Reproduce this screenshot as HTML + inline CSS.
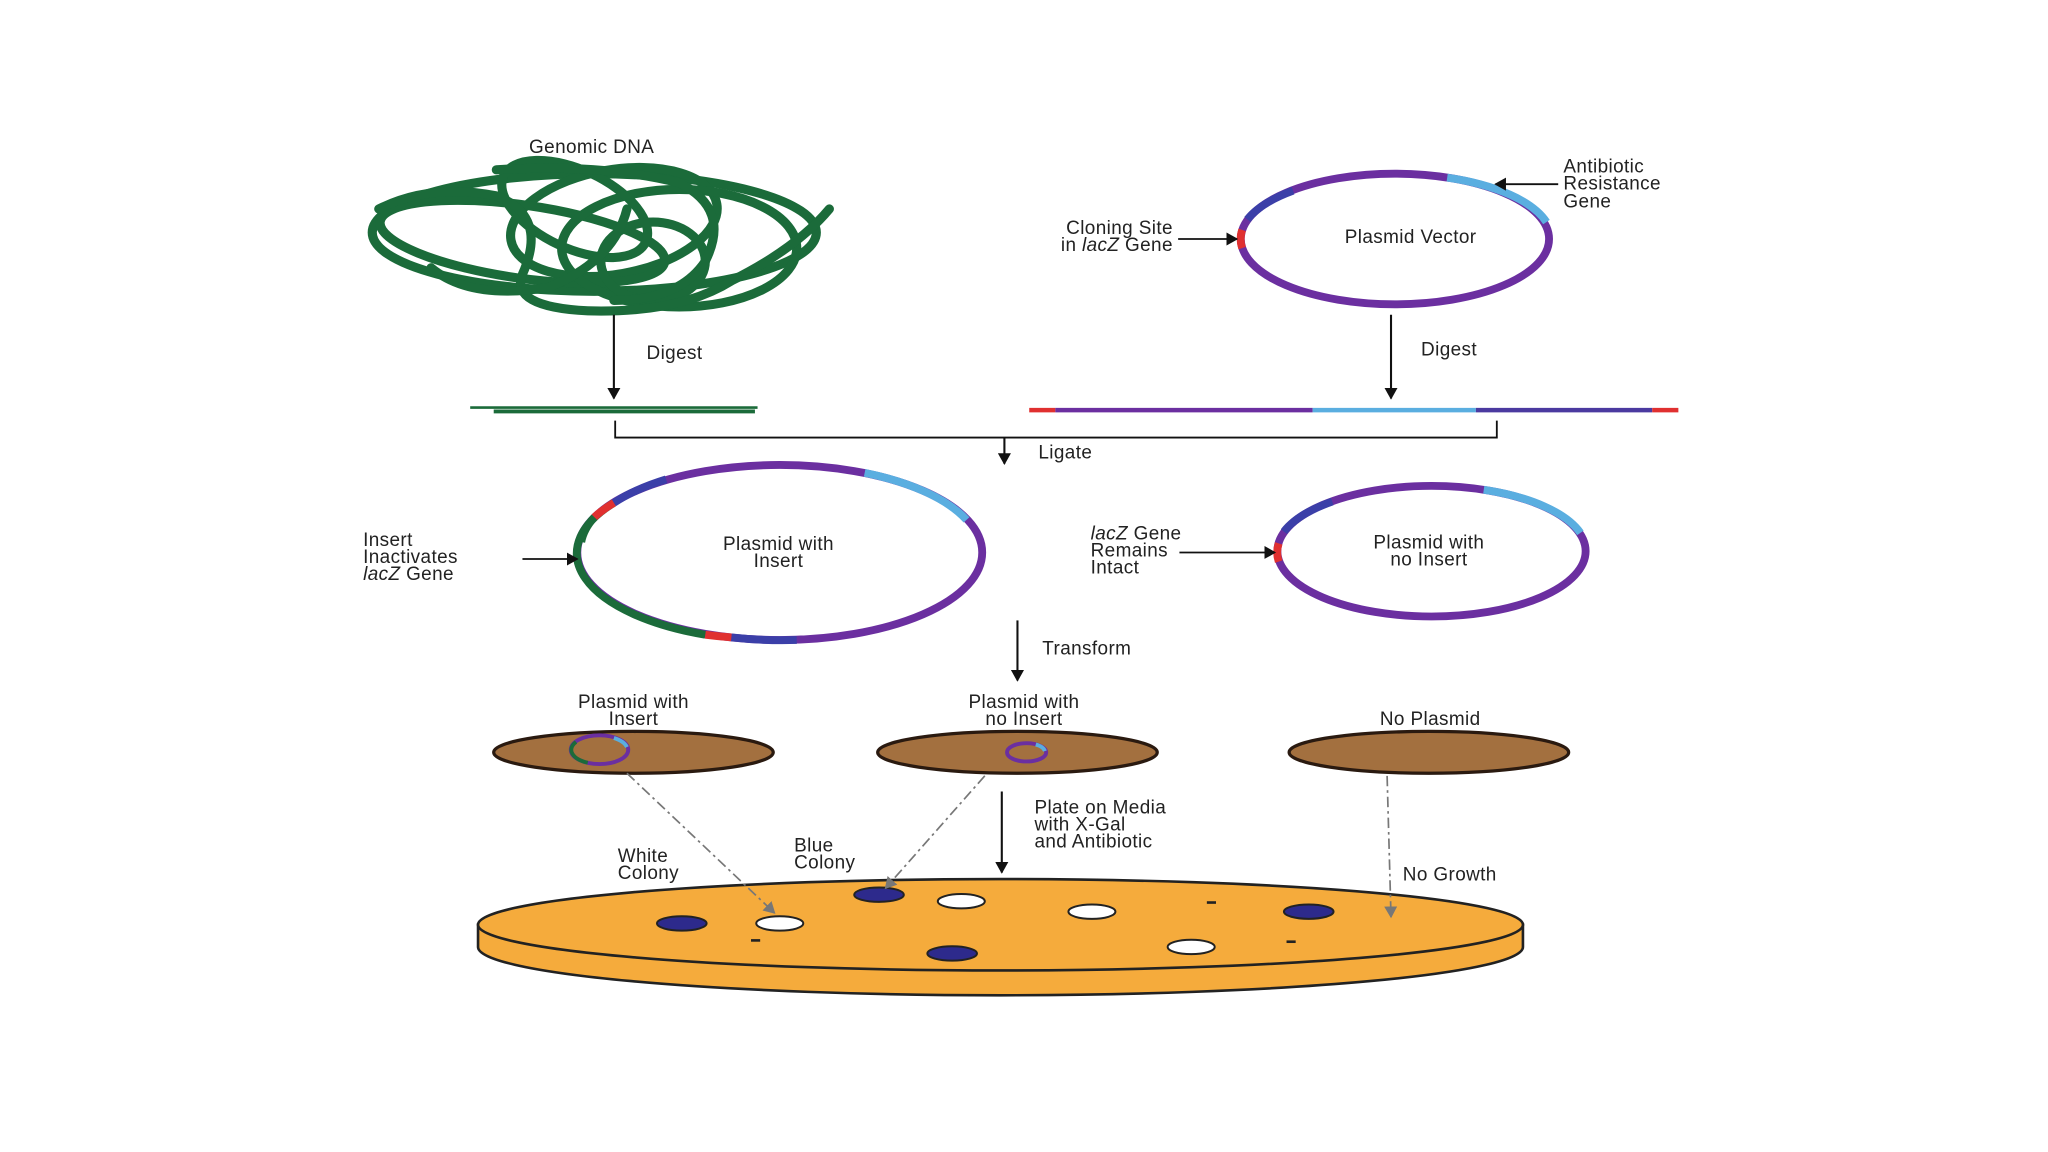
<!DOCTYPE html>
<html><head><meta charset="utf-8"><style>
html,body{margin:0;padding:0;background:#fff;}
svg{display:block;}
text{font-family:"Liberation Sans",sans-serif;font-size:14.5px;fill:#222;letter-spacing:0.3px;}
</style></head><body>
<svg width="2048" height="1152" viewBox="0 0 1568 882" preserveAspectRatio="none" xmlns="http://www.w3.org/2000/svg">
<defs>
<marker id="ah" markerWidth="10" markerHeight="10" refX="8" refY="5" orient="auto" markerUnits="userSpaceOnUse"><path d="M0,0 L9,5 L0,10 Z" fill="#111"/></marker>
<marker id="ag" markerWidth="10" markerHeight="10" refX="8" refY="5" orient="auto" markerUnits="userSpaceOnUse"><path d="M0,0 L9,5 L0,10 Z" fill="#777"/></marker>
</defs>
<rect width="1568" height="882" fill="#fff"/>

<!-- Genomic DNA -->
<text x="453" y="117" text-anchor="middle">Genomic DNA</text>
<g fill="none" stroke="#1b6b3a" stroke-width="7" stroke-linecap="round">
<ellipse cx="455" cy="178" rx="170" ry="45"/>
<ellipse cx="470" cy="170" rx="80" ry="40" transform="rotate(-10 470 170)"/>
<ellipse cx="400" cy="185" rx="110" ry="28" transform="rotate(8 400 185)"/>
<ellipse cx="520" cy="190" rx="90" ry="45"/>
<ellipse cx="440" cy="160" rx="60" ry="30" transform="rotate(25 440 160)"/>
<ellipse cx="500" cy="200" rx="40" ry="30"/>
<path d="M290,160 Q330,140 380,150 Q420,165 400,210 Q390,235 450,238 Q520,240 560,215 Q610,190 635,160"/>
<path d="M380,130 Q460,125 520,140 Q560,160 540,200 Q520,230 470,230"/>
<path d="M330,205 Q360,230 420,220 Q470,200 480,160"/>
</g>
<line x1="470" y1="241" x2="470" y2="305" stroke="#111" stroke-width="1.6" marker-end="url(#ah)"/>
<text x="495" y="275">Digest</text>
<line x1="360" y1="312" x2="580" y2="312" stroke="#1b6b3a" stroke-width="2"/>
<line x1="378" y1="315" x2="578" y2="315" stroke="#1b6b3a" stroke-width="3"/>

<!-- Plasmid vector -->
<ellipse cx="1068" cy="183" rx="118" ry="50" fill="none" stroke="#6b2fa0" stroke-width="6"/>
<path d="M1108,136 A118,50 0 0 1 1184,170" fill="none" stroke="#5aaee0" stroke-width="6"/>
<path d="M955,168 A118,50 0 0 1 990,146" fill="none" stroke="#3b3fa8" stroke-width="6"/>
<path d="M951,176 A118,50 0 0 0 951,190" fill="none" stroke="#e03030" stroke-width="6"/>
<text x="1080" y="186" text-anchor="middle">Plasmid Vector</text>
<text x="1197" y="132">Antibiotic</text>
<text x="1197" y="145">Resistance</text>
<text x="1197" y="159">Gene</text>
<line x1="1193" y1="141" x2="1145" y2="141" stroke="#111" stroke-width="1.4" marker-end="url(#ah)"/>
<text x="898" y="179" text-anchor="end">Cloning Site</text>
<text x="898" y="192" text-anchor="end">in <tspan font-style="italic">lacZ</tspan> Gene</text>
<line x1="902" y1="183" x2="947" y2="183" stroke="#111" stroke-width="1.4" marker-end="url(#ah)"/>
<line x1="1065" y1="241" x2="1065" y2="305" stroke="#111" stroke-width="1.6" marker-end="url(#ah)"/>
<text x="1088" y="272">Digest</text>
<g stroke-width="3.5">
<line x1="788" y1="314" x2="808" y2="314" stroke="#e03030"/>
<line x1="808" y1="314" x2="1005" y2="314" stroke="#6b2fa0"/>
<line x1="1005" y1="314" x2="1130" y2="314" stroke="#5aaee0"/>
<line x1="1130" y1="314" x2="1265" y2="314" stroke="#4b3aa0"/>
<line x1="1265" y1="314" x2="1285" y2="314" stroke="#e03030"/>
</g>

<!-- Ligate bracket -->
<path d="M471,322 V335 H1146 V322" fill="none" stroke="#111" stroke-width="1.4"/>
<line x1="769" y1="335" x2="769" y2="355" stroke="#111" stroke-width="1.6" marker-end="url(#ah)"/>
<text x="795" y="351">Ligate</text>

<!-- Plasmid with insert -->
<ellipse cx="597" cy="423" rx="155" ry="67" fill="none" stroke="#6b2fa0" stroke-width="6"/>
<path d="M470,385 A155,67 0 0 0 540,486" fill="none" stroke="#1b6b3a" stroke-width="6"/>
<path d="M470,385 A155,67 0 0 1 510,367" fill="none" stroke="#3b3fa8" stroke-width="6"/>
<path d="M455,396 A155,67 0 0 1 470,385" fill="none" stroke="#e03030" stroke-width="6"/>
<path d="M445,415 A155,67 0 0 1 455,396" fill="none" stroke="#1b6b3a" stroke-width="6"/>
<path d="M540,486 A155,67 0 0 0 560,488" fill="none" stroke="#e03030" stroke-width="6"/>
<path d="M560,488 A155,67 0 0 0 610,490" fill="none" stroke="#3b3fa8" stroke-width="6"/>
<path d="M662,362 A155,67 0 0 1 740,398" fill="none" stroke="#5aaee0" stroke-width="6"/>
<text x="596" y="421" text-anchor="middle">Plasmid with</text>
<text x="596" y="434" text-anchor="middle">Insert</text>
<text x="278" y="418">Insert</text>
<text x="278" y="431">Inactivates</text>
<text x="278" y="444"><tspan font-style="italic">lacZ</tspan> Gene</text>
<line x1="400" y1="428" x2="442" y2="428" stroke="#111" stroke-width="1.4" marker-end="url(#ah)"/>

<!-- Plasmid no insert -->
<ellipse cx="1096" cy="422" rx="118" ry="50" fill="none" stroke="#6b2fa0" stroke-width="6"/>
<path d="M1136,375 A118,50 0 0 1 1210,408" fill="none" stroke="#5aaee0" stroke-width="6"/>
<path d="M983,407 A118,50 0 0 1 1020,384" fill="none" stroke="#3b3fa8" stroke-width="6"/>
<path d="M979,416 A118,50 0 0 0 979,430" fill="none" stroke="#e03030" stroke-width="6"/>
<text x="1094" y="420" text-anchor="middle">Plasmid with</text>
<text x="1094" y="433" text-anchor="middle">no Insert</text>
<text x="835" y="413"><tspan font-style="italic">lacZ</tspan> Gene</text>
<text x="835" y="426">Remains</text>
<text x="835" y="439">Intact</text>
<line x1="903" y1="423" x2="976" y2="423" stroke="#111" stroke-width="1.4" marker-end="url(#ah)"/>

<line x1="779" y1="475" x2="779" y2="521" stroke="#111" stroke-width="1.6" marker-end="url(#ah)"/>
<text x="798" y="501">Transform</text>

<!-- small dishes -->
<g fill="#a3703f" stroke="#2a1a10" stroke-width="2.5">
<ellipse cx="485" cy="576" rx="107" ry="16"/>
<ellipse cx="779" cy="576" rx="107" ry="16"/>
<ellipse cx="1094" cy="576" rx="107" ry="16"/>
</g>
<text x="485" y="542" text-anchor="middle">Plasmid with</text>
<text x="485" y="555" text-anchor="middle">Insert</text>
<text x="784" y="542" text-anchor="middle">Plasmid with</text>
<text x="784" y="555" text-anchor="middle">no Insert</text>
<text x="1095" y="555" text-anchor="middle">No Plasmid</text>
<g fill="none" stroke-width="3">
<ellipse cx="459" cy="574" rx="22" ry="11" stroke="#6b2fa0"/>
<path d="M441,568 A22,11 0 0 0 450,584" stroke="#1b6b3a"/>
<path d="M470,565 A22,11 0 0 1 480,572" stroke="#5aaee0"/>
<ellipse cx="786" cy="576" rx="15" ry="7" stroke="#6b2fa0"/>
<path d="M793,570 A15,7 0 0 1 800,575" stroke="#5aaee0"/>
</g>

<line x1="767" y1="606" x2="767" y2="668" stroke="#111" stroke-width="1.6" marker-end="url(#ah)"/>
<text x="792" y="623">Plate on Media</text>
<text x="792" y="636">with X-Gal</text>
<text x="792" y="649">and Antibiotic</text>
<text x="473" y="660">White</text>
<text x="473" y="673">Colony</text>
<text x="608" y="652">Blue</text>
<text x="608" y="665">Colony</text>
<text x="1074" y="674">No Growth</text>

<!-- big plate -->
<path d="M366,708 V725 A400,37 0 0 0 1166,725 V708 Z" fill="#f5ab3c" stroke="#222" stroke-width="2"/>
<ellipse cx="766" cy="708" rx="400" ry="35" fill="#f5ab3c" stroke="#222" stroke-width="2"/>
<g stroke="#222" stroke-width="1.5">
<ellipse cx="522" cy="707" rx="19" ry="5.5" fill="#2d2a8c"/>
<ellipse cx="673" cy="685" rx="19" ry="5.5" fill="#2d2a8c"/>
<ellipse cx="729" cy="730" rx="19" ry="5.5" fill="#2d2a8c"/>
<ellipse cx="1002" cy="698" rx="19" ry="5.5" fill="#2d2a8c"/>
<ellipse cx="597" cy="707" rx="18" ry="5.5" fill="#fff"/>
<ellipse cx="736" cy="690" rx="18" ry="5.5" fill="#fff"/>
<ellipse cx="836" cy="698" rx="18" ry="5.5" fill="#fff"/>
<ellipse cx="912" cy="725" rx="18" ry="5.5" fill="#fff"/>
</g>
<g fill="#222">
<rect x="575" y="719" width="7" height="2"/>
<rect x="924" y="690" width="7" height="2"/>
<rect x="985" y="720" width="7" height="2"/>
</g>

<!-- dashed lines on top -->
<g stroke="#777" stroke-width="1.3" stroke-dasharray="8,3,2,3" fill="none">
<line x1="480" y1="592" x2="593" y2="699" marker-end="url(#ag)"/>
<line x1="754" y1="594" x2="678" y2="680" marker-end="url(#ag)"/>
<line x1="1062" y1="594" x2="1065" y2="702" marker-end="url(#ag)"/>
</g>
</svg>
</body></html>
